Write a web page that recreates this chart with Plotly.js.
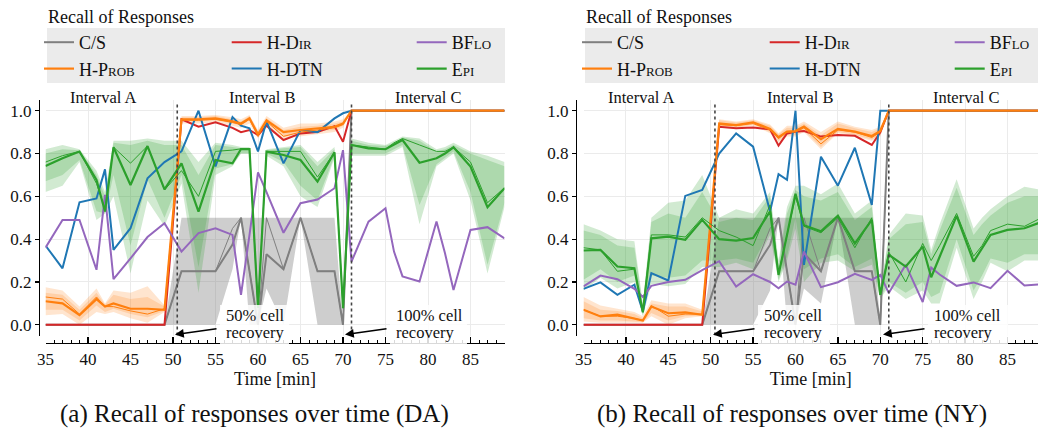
<!DOCTYPE html>
<html>
<head>
<meta charset="utf-8">
<script src="https://cdn.plot.ly/plotly-3.0.1.min.js"></script>
<style>html,body{margin:0;padding:0;background:#fff}#chart{width:1038px;height:437px}</style>
</head>
<body>
<div id="chart"></div>
<script>
// ---------------- data ----------------
const T = [35,37,39,41,42,43,45,47,49,51,53,55,57,58,59,60,61,63,65,67,69,70,71,73,75,76,77,79,81,82,83,85,87,89];
const xTicks = [35,40,45,50,55,60,65,70,75,80,85];
const yTicks = [0,0.2,0.4,0.6,0.8,1.0];
const names = ['C/S','H-Prob','H-Dir','H-DTN','BFlo','Epi'];
const intervalLabels = ['Interval A','Interval B','Interval C'];
const recoveryTimes = [50.5, 71];

// (a) DA
const csDA      = [0,0,0,0,0,0,0,0,0, 0.25,0.25,0.25,0.375,0.5,0.25,0,0.33,0.26,0.5,0.25,0.25,0, 1,1,1,1,1,1,1,1,1,1,1,1];
const csThinDA  = [0,0,0,0,0,0,0,0,0, 0.25,0.25,0.25,0.45,0.5,0.25,0,0.5,0.26,0.5,0.25,0.25,0, 1,1,1,1,1,1,1,1,1,1,1,1];
const csLoDA    = [0,0,0,0,0,0,0,0,0, 0,0,0,0.26,0.5,0,0,0.17,0,0.5,0,0,0, 1,1,1,1,1,1,1,1,1,1,1,1];
const csHiDA    = [0,0,0,0,0,0,0,0,0, 0.5,0.5,0.5,0.5,0.5,0.5,0.5,0.5,0.5,0.5,0.5,0.5,0, 1,1,1,1,1,1,1,1,1,1,1,1];
const probDA    = [0.11,0.10,0.045,0.12,0.085,0.10,0.075,0.075,0.07, 0.96,0.96,0.964,0.95,0.94,0.964,0.89,0.955,0.9,0.91,0.918,0.925,0.94, 1,1,1,1,1,1,1,1,1,1,1,1];
const probThinDA= [0.13,0.12,0.05,0.13,0.085,0.085,0.065,0.05,0.075, 0.955,0.955,0.96,0.945,0.935,0.96,0.88,0.95,0.88,0.9,0.91,0.92,0.935, 1,1,1,1,1,1,1,1,1,1,1,1];
const probLoDA  = [0.045,0.05,0.0,0.06,0.05,0.06,0.03,0.01,0.06, 0.94,0.94,0.945,0.93,0.92,0.94,0.87,0.93,0.87,0.88,0.89,0.9,0.92, 1,1,1,1,1,1,1,1,1,1,1,1];
const probHiDA  = [0.175,0.16,0.085,0.17,0.1,0.16,0.15,0.18,0.09, 0.975,0.975,0.98,0.97,0.96,0.98,0.91,0.975,0.92,0.94,0.94,0.95,0.96, 1,1,1,1,1,1,1,1,1,1,1,1];
const probLo2DA = [0.07,0.07,0.02,0.09,0.06,0.075,0.05,0.035,0.065, 0.95,0.95,0.955,0.94,0.93,0.955,0.88,0.945,0.88,0.895,0.905,0.91,0.93, 1,1,1,1,1,1,1,1,1,1,1,1];
const probHi2DA = [0.15,0.14,0.07,0.15,0.095,0.14,0.12,0.13,0.085, 0.97,0.97,0.975,0.96,0.95,0.975,0.9,0.965,0.91,0.925,0.93,0.94,0.95, 1,1,1,1,1,1,1,1,1,1,1,1];
const dirDA     = [0,0,0,0,0,0,0,0,0, 0.96,0.925,0.946,0.92,0.9,0.91,0.886,0.93,0.863,0.894,0.9,0.928,0.855, 1,1,1,1,1,1,1,1,1,1,1,1];
const dtnDA     = [0.37,0.264,0.572,0.59,0.726,0.35,0.451,0.684,0.76, 0.81,1.0,0.74,0.97,0.93,0.918,0.81,0.95,0.754,0.91,0.9,0.964,0.988, 1,1,1,1,1,1,1,1,1,1,1,1];
const bfloDA    = [0.36,0.49,0.49,0.257,0.607,0.213,0.31,0.41,0.474, 0.342,0.428,0.451,0.42,0.14,0.42,0.712,0.62,0.43,0.568,0.585,0.638,0.816, 0.295,0.482,0.544,0.342,0.226,0.202,0.482,0.334,0.163,0.443,0.456,0.404];
const epiDA     = [0.742,0.778,0.809,0.677,0.529,0.829,0.653,0.835,0.633, 0.754,0.529,0.77,0.754,0.821,0.821,0.08,0.809,0.793,0.77,0.669,0.806,0.078, 0.84,0.824,0.82,0.84,0.863,0.757,0.778,0.8,0.829,0.739,0.549,0.638];
const epiThinDA = [0.76,0.79,0.81,0.66,0.54,0.83,0.755,0.835,0.63, 0.72,0.6,0.81,0.816,0.822,0.82,0.08,0.81,0.81,0.81,0.69,0.806,0.078, 0.84,0.83,0.82,0.85,0.87,0.84,0.81,0.81,0.83,0.76,0.57,0.64];
const epiLoDA   = [0.62,0.65,0.76,0.49,0.52,0.6,0.24,0.58,0.46, 0.66,0.15,0.7,0.74,0.8,0.8,0.0,0.79,0.74,0.6,0.55,0.78,0.06, 0.79,0.79,0.79,0.81,0.83,0.47,0.74,0.77,0.8,0.58,0.24,0.55];
const epiHiDA   = [0.82,0.84,0.82,0.72,0.62,0.86,0.86,0.87,0.86, 0.86,0.76,0.85,0.84,0.83,0.83,0.1,0.82,0.83,0.84,0.76,0.83,0.09, 0.87,0.85,0.84,0.86,0.88,0.87,0.82,0.83,0.85,0.81,0.79,0.76];
const epiLo2DA  = [0.67,0.7,0.77,0.53,0.52,0.7,0.37,0.68,0.5, 0.7,0.27,0.73,0.75,0.8,0.8,0.05,0.8,0.76,0.65,0.58,0.79,0.07, 0.8,0.8,0.8,0.82,0.84,0.56,0.75,0.78,0.81,0.62,0.28,0.57];
const epiHi2DA  = [0.8,0.82,0.815,0.7,0.6,0.85,0.84,0.86,0.84, 0.84,0.7,0.84,0.83,0.825,0.825,0.09,0.815,0.825,0.83,0.74,0.82,0.085, 0.86,0.84,0.835,0.85,0.875,0.86,0.81,0.82,0.84,0.8,0.77,0.74];

// (b) NY
const csNY      = [0,0,0,0,0,0,0,0,0, 0.25,0.25,0.25,0.373,0.5,0.25,0,0.334,0.25,0.5,0.25,0.25,0, 1,1,1,1,1,1,1,1,1,1,1,1];
const csThinNY  = [0,0,0,0,0,0,0,0,0, 0.25,0.25,0.25,0.45,0.5,0.25,0,0.5,0.25,0.5,0.25,0.25,0, 1,1,1,1,1,1,1,1,1,1,1,1];
const csLoNY    = [0,0,0,0,0,0,0,0,0, 0,0,0,0.16,0.5,0,0,0.17,0.1,0.5,0,0,0, 1,1,1,1,1,1,1,1,1,1,1,1];
const csHiNY    = [0,0,0,0,0,0,0,0,0, 0.5,0.5,0.5,0.5,0.5,0.5,0.5,0.5,0.5,0.5,0.5,0.5,0, 1,1,1,1,1,1,1,1,1,1,1,1];
const probNY    = [0.07,0.039,0.047,0.03,0.02,0.085,0.054,0.058,0.047, 0.94,0.933,0.946,0.915,0.876,0.902,0.905,0.926,0.867,0.915,0.902,0.882,0.905, 1,1,1,1,1,1,1,1,1,1,1,1];
const probThinNY= [0.07,0.04,0.04,0.03,0.02,0.09,0.04,0.05,0.05, 0.935,0.93,0.94,0.91,0.87,0.9,0.9,0.92,0.845,0.91,0.9,0.875,0.9, 1,1,1,1,1,1,1,1,1,1,1,1];
const probLoNY  = [0.015,0.01,0.01,0.01,0.01,0.04,0.0,0.03,0.04, 0.92,0.915,0.93,0.895,0.85,0.88,0.88,0.9,0.82,0.895,0.88,0.86,0.88, 1,1,1,1,1,1,1,1,1,1,1,1];
const probHiNY  = [0.13,0.09,0.075,0.06,0.04,0.115,0.1,0.1,0.07, 0.96,0.95,0.96,0.935,0.895,0.93,0.93,0.95,0.9,0.95,0.925,0.91,0.925, 1,1,1,1,1,1,1,1,1,1,1,1];
const probLo2NY = [0.03,0.02,0.02,0.015,0.012,0.055,0.02,0.04,0.042, 0.925,0.92,0.935,0.9,0.86,0.888,0.888,0.908,0.83,0.9,0.888,0.866,0.888, 1,1,1,1,1,1,1,1,1,1,1,1];
const probHi2NY = [0.11,0.07,0.065,0.05,0.03,0.1,0.085,0.085,0.062, 0.955,0.945,0.955,0.93,0.89,0.92,0.92,0.94,0.885,0.94,0.918,0.9,0.918, 1,1,1,1,1,1,1,1,1,1,1,1];
const dirNY     = [0,0,0,0,0,0,0,0,0, 0.925,0.918,0.922,0.913,0.837,0.894,0.902,0.905,0.879,0.886,0.883,0.84,0.899, 1,1,1,1,1,1,1,1,1,1,1,1];
const dtnNY     = [0.168,0.198,0.14,0.187,0.062,0.241,0.207,0.602,0.63, 0.80,0.894,0.832,0.529,0.704,0.677,1.0,0.28,0.785,0.65,0.827,0.56,1.0, 1,1,1,1,1,1,1,1,1,1,1,1];
const bfloNY    = [0.179,0.23,0.213,0.168,0.13,0.182,0.2,0.21,0.255, 0.297,0.179,0.236,0.2,0.171,0.202,0.187,0.342,0.176,0.199,0.238,0.21,0.233, 0.148,0.28,0.106,0.267,0.235,0.182,0.198,0.185,0.171,0.252,0.184,0.19];
const epiNY     = [0.347,0.35,0.272,0.264,0.058,0.404,0.412,0.397,0.49, 0.40,0.393,0.405,0.53,0.233,0.42,0.612,0.465,0.437,0.51,0.38,0.49,0.14, 0.327,0.272,0.365,0.222,0.318,0.509,0.295,0.357,0.42,0.443,0.451,0.48];
const epiThinNY = [0.36,0.35,0.25,0.26,0.06,0.42,0.42,0.41,0.5, 0.44,0.41,0.37,0.56,0.24,0.42,0.6,0.46,0.43,0.5,0.36,0.5,0.14, 0.34,0.2,0.38,0.3,0.37,0.52,0.32,0.37,0.44,0.47,0.46,0.5];
const epiLoNY   = [0.16,0.22,0.17,0.2,0.04,0.19,0.18,0.19,0.27, 0.27,0.29,0.26,0.42,0.2,0.3,0.45,0.2,0.29,0.3,0.25,0.28,0.12, 0.18,0.12,0.16,0.1,0.1,0.36,0.12,0.2,0.29,0.25,0.3,0.3];
const epiHiNY   = [0.47,0.44,0.4,0.39,0.1,0.5,0.57,0.58,0.7, 0.5,0.54,0.52,0.62,0.3,0.55,0.65,0.65,0.61,0.66,0.52,0.58,0.16, 0.42,0.52,0.51,0.35,0.47,0.68,0.45,0.5,0.54,0.6,0.645,0.63];
const epiLo2NY  = [0.21,0.26,0.2,0.23,0.045,0.23,0.22,0.23,0.3, 0.3,0.31,0.29,0.44,0.21,0.32,0.5,0.26,0.31,0.33,0.27,0.31,0.125, 0.2,0.15,0.2,0.13,0.15,0.4,0.16,0.23,0.31,0.29,0.33,0.33];
const epiHi2NY  = [0.44,0.42,0.37,0.36,0.09,0.48,0.52,0.5,0.62, 0.48,0.5,0.49,0.6,0.28,0.52,0.63,0.6,0.58,0.62,0.49,0.55,0.155, 0.4,0.47,0.48,0.33,0.44,0.64,0.42,0.47,0.51,0.57,0.6,0.6];

const captions = ['(a) Recall of responses over time (DA)', '(b) Recall of responses over time (NY)'];
const legendTitle = 'Recall of Responses';

// ---------------- drawing ----------------
const W = 1038, H = 437;
const px = v => v / W;
const py = v => 1 - v / H;
const FONT = 'Liberation Serif';
const COL = {cs:'#7f7f7f', prob:'#ff7f0e', dir:'#d62728', dtn:'#1f77b4', bflo:'#9467bd', epi:'#2ca02c'};

function band(lo, hi, color, xa, ya) {
  return {x: T.concat(T.slice().reverse()), y: hi.concat(lo.slice().reverse()),
    xaxis: xa, yaxis: ya, type: 'scatter', mode: 'lines', fill: 'toself',
    fillcolor: color, line: {width: 0}, hoverinfo: 'skip', showlegend: false};
}
function line(y, color, w, xa, ya, name, legend) {
  const t = {x: T, y: y, xaxis: xa, yaxis: ya, type: 'scatter', mode: 'lines',
    line: {color: color, width: w}, name: name || '', showlegend: !!legend};
  if (legend) t.legend = legend;
  return t;
}

function chart(d, xa, ya, lg) {
  return [
    band(d.csLo, d.csHi, 'rgba(127,127,127,0.38)', xa, ya),
    band(d.probLo, d.probHi, 'rgba(255,127,14,0.2)', xa, ya),
    band(d.probLo2, d.probHi2, 'rgba(255,127,14,0.2)', xa, ya),
    band(d.epiLo, d.epiHi, 'rgba(44,160,44,0.22)', xa, ya),
    band(d.epiLo2, d.epiHi2, 'rgba(44,160,44,0.22)', xa, ya),
    line(d.csThin, COL.cs, 1, xa, ya),
    line(d.cs, COL.cs, 2, xa, ya, names[0], lg[0]),
    line(d.dir, COL.dir, 2, xa, ya, names[2], lg[1]),
    line(d.dtn, COL.dtn, 2, xa, ya, names[3], lg[1]),
    line(d.probThin, COL.prob, 1, xa, ya),
    line(d.prob, COL.prob, 2.2, xa, ya, names[1], lg[0]),
    line(d.bflo, COL.bflo, 2, xa, ya, names[4], lg[2]),
    line(d.epiThin, COL.epi, 1, xa, ya),
    line(d.epi, COL.epi, 2.2, xa, ya, names[5], lg[2])
  ];
}

const DA = {cs:csDA, csThin:csThinDA, csLo:csLoDA, csHi:csHiDA, prob:probDA, probThin:probThinDA,
  probLo:probLoDA, probHi:probHiDA, probLo2:probLo2DA, probHi2:probHi2DA, dir:dirDA, dtn:dtnDA,
  bflo:bfloDA, epi:epiDA, epiThin:epiThinDA, epiLo:epiLoDA, epiHi:epiHiDA, epiLo2:epiLo2DA, epiHi2:epiHi2DA};
const NY = {cs:csNY, csThin:csThinNY, csLo:csLoNY, csHi:csHiNY, prob:probNY, probThin:probThinNY,
  probLo:probLoNY, probHi:probHiNY, probLo2:probLo2NY, probHi2:probHi2NY, dir:dirNY, dtn:dtnNY,
  bflo:bfloNY, epi:epiNY, epiThin:epiThinNY, epiLo:epiLoNY, epiHi:epiHiNY, epiLo2:epiLo2NY, epiHi2:epiHi2NY};

const data = chart(DA, 'x', 'y', ['legend','legend2','legend3'])
  .concat(chart(NY, 'x2', 'y2', ['legend4','legend5','legend6']));

const OFF = 538; // horizontal offset of panel (b)
const X35 = 45.5;

function xaxisDef(x0, xEndPx, xEndVal) {
  return {domain: [px(x0), Math.min(1, px(xEndPx))], range: [35, xEndVal], anchor: 'free', position: py(343),
    showline: true, linecolor: '#000', linewidth: 1.2, ticks: 'inside', ticklen: 6, tickwidth: 1.2, tickcolor: '#000',
    tickvals: xTicks, showgrid: true, gridcolor: '#ebebeb', gridwidth: 1, zeroline: false,
    minor: {dtick: 1, tick0: 35, ticks: 'inside', ticklen: 3, tickwidth: 1, tickcolor: '#000', showgrid: false},
    tickfont: {family: FONT, size: 17, color: '#111'},
    title: {text: 'Time [min]', font: {family: FONT, size: 18, color: '#111'}, standoff: 4}};
}
function yaxisDef(posPx) {
  return {domain: [py(335.5), py(100)], range: [-0.05, 1.05], anchor: 'free', position: px(posPx),
    showline: true, linecolor: '#000', linewidth: 1.2, ticks: 'outside', ticklen: 4, tickwidth: 1.2, tickcolor: '#000',
    tickvals: yTicks, tickformat: '.1f', showgrid: true, gridcolor: '#ebebeb', gridwidth: 1, zeroline: false,
    tickfont: {family: FONT, size: 17, color: '#111'}};
}

const legFont = {family: FONT, size: 18, color: '#111', variant: 'small-caps'};
function legendDef(textX) {
  return {x: px(textX - 40), y: py(24), xanchor: 'left', yanchor: 'top', bgcolor: 'rgba(0,0,0,0)',
    borderwidth: 0, font: legFont, tracegroupgap: 0, itemwidth: 30, orientation: 'v'};
}

const shapes = [];
const annotations = [];
[0, OFF].forEach((o, i) => {
  shapes.push({type: 'rect', xref: 'paper', yref: 'paper', x0: px(47 + o), x1: px(505 + o), y0: py(83), y1: py(28),
    fillcolor: '#ebebeb', line: {width: 0}, layer: 'below'});
  const xa = i === 0 ? 'x' : 'x2', ya = i === 0 ? 'y' : 'y2';
  recoveryTimes.forEach(t => shapes.push({type: 'line', xref: xa, yref: ya, x0: t, x1: t, y0: -0.05, y1: 1.035,
    line: {color: '#444', width: 1.6, dash: 'dot'}, layer: 'above'}));
  [[220, 289], [390, 467]].forEach(b => shapes.push({type: 'rect', xref: 'paper', yref: 'paper',
    x0: px(b[0] + o), x1: px(b[1] + o + (i ? 3 : 0)), y0: py(346), y1: py(305),
    fillcolor: 'rgba(255,255,255,0.85)', line: {width: 0}, layer: 'above'}));

  annotations.push({text: legendTitle, xref: 'paper', yref: 'paper', x: px(46 + o), y: py(16.5),
    xanchor: 'left', yanchor: 'middle', showarrow: false, font: {family: FONT, size: 18, color: '#111'}});
  [103, 262, 428].forEach((cx, k) => annotations.push({text: intervalLabels[k], xref: 'paper', yref: 'paper',
    x: px(cx + o), y: py(97), xanchor: 'center', yanchor: 'middle', showarrow: false,
    font: {family: FONT, size: 16.5, color: '#111'}}));
  [[224, '50% cell'], [394, '100% cell']].forEach(a => {
    annotations.push({text: a[1], xref: 'paper', yref: 'paper', x: px(a[0] + o), y: py(315),
      xanchor: 'left', yanchor: 'middle', showarrow: false, font: {family: FONT, size: 16.5, color: '#111'}});
    annotations.push({text: 'recovery', xref: 'paper', yref: 'paper', x: px(a[0] + o), y: py(332),
      xanchor: 'left', yanchor: 'middle', showarrow: false, font: {family: FONT, size: 16.5, color: '#111'}});
  });
  [175, 345].forEach(hx => annotations.push({text: '', xref: 'paper', yref: 'paper', x: px(hx + o), y: py(334.5),
    ax: 43, ay: -6, showarrow: true, arrowhead: 2, arrowsize: 1.1, arrowwidth: 1.6, arrowcolor: '#000'}));
  annotations.push({text: captions[i], xref: 'paper', yref: 'paper', x: px(254 + o), y: py(414),
    xanchor: 'center', yanchor: 'middle', showarrow: false, font: {family: FONT, size: 25, color: '#111'}});
});

const layout = {
  width: W, height: H, margin: {l: 0, r: 0, t: 0, b: 0}, paper_bgcolor: '#fff', plot_bgcolor: 'rgba(0,0,0,0)',
  font: {family: FONT, color: '#111'},
  xaxis: xaxisDef(X35, 504.5, 89),
  yaxis: yaxisDef(39),
  xaxis2: xaxisDef(X35 + OFF, 1038, 35 + (1038 - X35 - OFF) / 8.48),
  yaxis2: yaxisDef(39 + OFF - 1),
  legend: legendDef(79), legend2: legendDef(266.7), legend3: legendDef(451.7),
  legend4: legendDef(79 + OFF), legend5: legendDef(266.7 + OFF), legend6: legendDef(451.7 + OFF),
  shapes: shapes, annotations: annotations, showlegend: true
};

Plotly.newPlot('chart', data, layout, {displayModeBar: false, staticPlot: true});
</script>
</body>
</html>
